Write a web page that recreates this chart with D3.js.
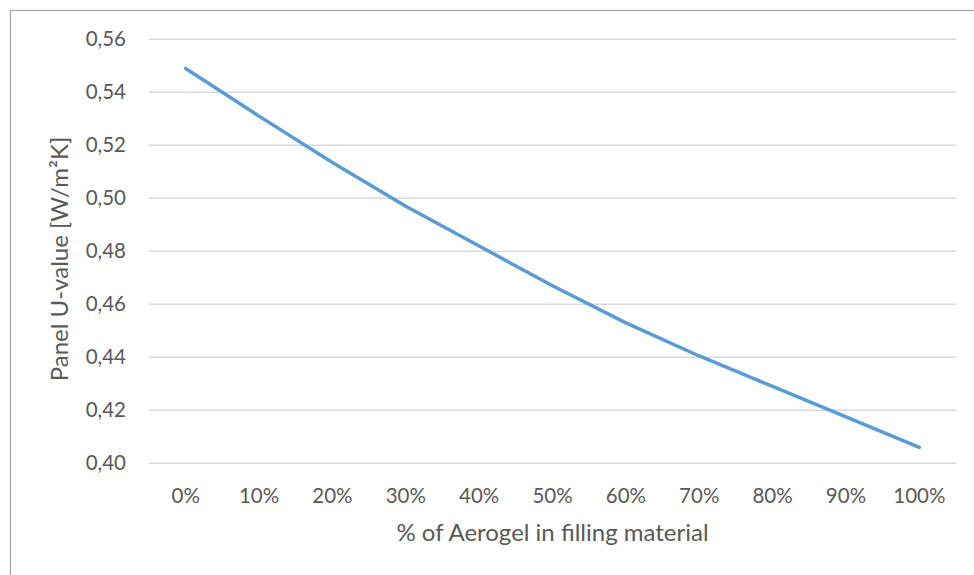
<!DOCTYPE html>
<html>
<head>
<meta charset="utf-8">
<script src="https://cdn.jsdelivr.net/npm/d3@7"></script>
<style>
  html, body { margin: 0; padding: 0; background: #fff; }
  svg { display: block; }
  text { font-family: Lato, "Open Sans", sans-serif; fill: #595959; }
</style>
</head>
<body>
<svg id="chart" width="974" height="575"></svg>
<script>
// Aerogel share in the filling material
const categories = ["0%", "10%", "20%", "30%", "40%", "50%", "60%", "70%", "80%", "90%", "100%"];
// Panel U-value [W/m²K] for each share
const uValues = [0.549, 0.531, 0.5135, 0.497, 0.482, 0.467, 0.453, 0.4405, 0.429, 0.4175, 0.406];
// Value axis ticks
const yTicks = [0.40, 0.42, 0.44, 0.46, 0.48, 0.50, 0.52, 0.54, 0.56];

const svg = d3.select("#chart");
const W = 974, H = 575;
const plot = { left: 149, right: 956, top: 39.3, bottom: 463.3 };

// Outer chart frame
svg.append("rect")
  .attr("x", 10.5).attr("y", 10.5)
  .attr("width", W).attr("height", H)
  .attr("fill", "none").attr("stroke", "#a6a6a6").attr("stroke-width", 1.2);

const x = d3.scaleBand().domain(categories).range([plot.left, plot.right]).padding(0);
const y = d3.scaleLinear().domain([0.40, 0.56]).range([plot.bottom, plot.top]);

// Horizontal gridlines
svg.append("g")
  .selectAll("line")
  .data(yTicks)
  .join("line")
  .attr("x1", plot.left).attr("x2", plot.right)
  .attr("y1", d => y(d)).attr("y2", d => y(d))
  .attr("stroke", "#d9d9d9").attr("stroke-width", 1.5);

// Y axis labels
const fmt = d => d.toFixed(2).replace(".", ",");
const yAxis = d3.axisLeft(y).tickValues(yTicks).tickFormat(fmt).tickSize(0).tickPadding(0);
const gy = svg.append("g").attr("transform", "translate(126,0)").call(yAxis);
gy.select(".domain").remove();
gy.selectAll("text").attr("font-size", 20.5).attr("fill", "#595959")
  .style("font-family", "Lato, 'Open Sans', sans-serif");

// X axis labels
const xAxis = d3.axisBottom(x).tickSize(0).tickPadding(0);
const gx = svg.append("g").attr("transform", "translate(0,488)").call(xAxis);
gx.select(".domain").remove();
gx.selectAll("text").attr("font-size", 20.5).attr("fill", "#595959")
  .style("font-family", "Lato, 'Open Sans', sans-serif");

// Data line
const line = d3.line()
  .x((d, i) => x(categories[i]) + x.bandwidth() / 2)
  .y(d => y(d));
svg.append("path")
  .datum(uValues)
  .attr("d", line)
  .attr("fill", "none")
  .attr("stroke", "#5b9bd5")
  .attr("stroke-width", 3.5)
  .attr("stroke-linecap", "round")
  .attr("stroke-linejoin", "round");

// Axis titles
svg.append("text")
  .attr("x", (plot.left + plot.right) / 2).attr("y", 541)
  .attr("text-anchor", "middle").attr("font-size", 24)
  .text("% of Aerogel in filling material");

svg.append("text")
  .attr("transform", "translate(68,259) rotate(-90)")
  .attr("text-anchor", "middle").attr("font-size", 24)
  .text("Panel U-value [W/m²K]");
</script>
</body>
</html>
